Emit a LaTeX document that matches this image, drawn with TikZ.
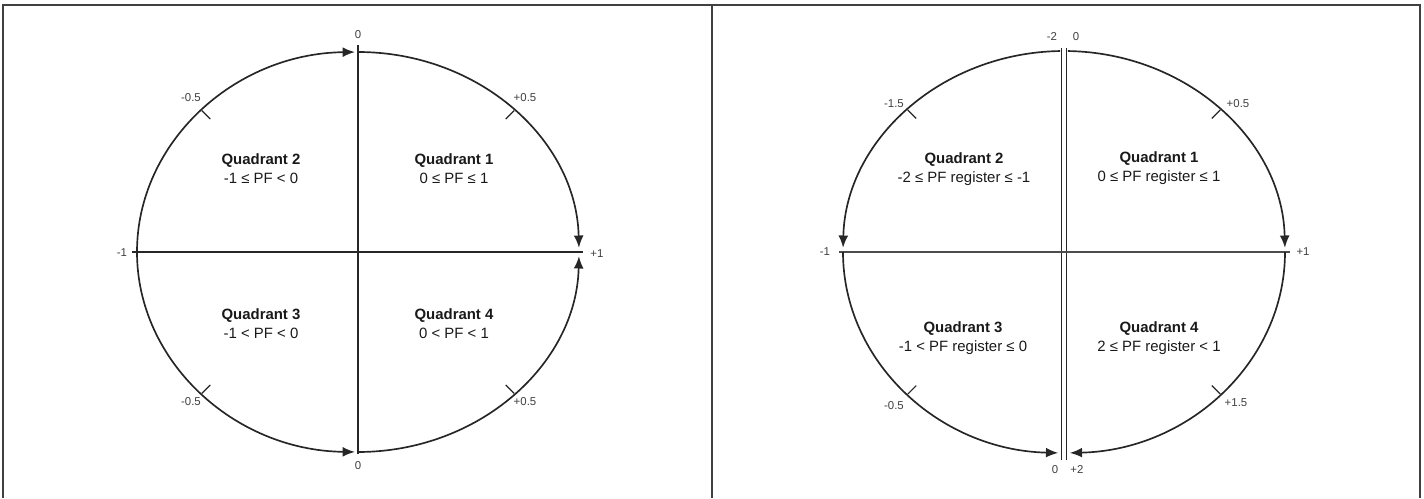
\documentclass[tikz,border=0pt]{standalone}
\usepackage{fontspec}
\setmainfont{Liberation Sans}
\usetikzlibrary{arrows.meta}

\begin{document}
\begin{tikzpicture}[x=0.02cm,y=0.02cm,line width=0.95pt,color=black!85,
  ring/.style={line width=0.95pt,-{Latex[length=7pt,width=5.6pt]}},
  tick/.style={line width=0.7pt},
  lbl/.style={font=\fontsize{6.5}{7.5}\selectfont,text=black!75,inner sep=0pt},
  quad/.style={align=center,font=\fontsize{8.5}{10.8}\selectfont,text=black!90,inner sep=0pt}]
\useasboundingbox (0,0) rectangle (1424,498);
% frame of the two panels
\draw[line width=1.1pt,black!75] (3,0) -- (3,493) -- (1420,493) -- (1420,0);
\draw[line width=1.1pt,black!75] (712,0) -- (712,493);

% ---- left panel: PF
\coordinate (cL) at (358,246);
\coordinate (topL) at (358,453);
\coordinate (botL) at (358,44);
\coordinate (westL) at (132,246);
\coordinate (eastL) at (583,246);
\draw (botL) -- (topL);
\draw[line width=1.1pt] (westL) -- (eastL);
% arcs round the circle
\draw[ring] (cL) ++(180:221 and 200) arc[start angle=180,end angle=90.8,x radius=221,y radius=200];
\draw[ring] (cL) ++(90:221 and 200) arc[start angle=90,end angle=1.2,x radius=221,y radius=200];
\draw[ring] (cL) ++(180:221 and 200) arc[start angle=180,end angle=269.2,x radius=221,y radius=200];
\draw[ring] (cL) ++(270:221 and 200) arc[start angle=270,end angle=358.8,x radius=221,y radius=200];
\foreach \a in {45,135,225,315}{
  \draw[tick] (cL) ++(\a:221 and 200) -- ++(\a+180:12);
}
% scale labels
\node[lbl] (l0t) at (358,463) {0};
\node[lbl] (l0b) at (358,32) {0};
\node[lbl] (lm1) at (122,245) {-1};
\node[lbl] (lp1) at (597,244) {+1};
\node[lbl] (lm5t) at (191,400) {-0.5};
\node[lbl] (lp5t) at (525,400) {+0.5};
\node[lbl] (lm5b) at (191,96) {-0.5};
\node[lbl] (lp5b) at (525,96) {+0.5};
% quadrants
\node[quad] (q2L) at (261,329.5) {\textbf{Quadrant 2}\\-1 ≤ PF < 0};
\node[quad] (q1L) at (454,329.5) {\textbf{Quadrant 1}\\0 ≤ PF ≤ 1};
\node[quad] (q3L) at (261,174) {\textbf{Quadrant 3}\\-1 < PF < 0};
\node[quad] (q4L) at (454,174) {\textbf{Quadrant 4}\\0 < PF < 1};

% ---- right panel: PF register
\coordinate (cR) at (1064,246);
\coordinate (topR) at (1064,450);
\coordinate (botR) at (1064,38);
\coordinate (westR) at (839,246);
\coordinate (eastR) at (1290,246);
\draw[double,double distance=2pt,line width=0.8pt] (botR) -- (topR);
\draw[line width=1.2pt,black!70] (westR) -- (eastR);
% arcs round the circle
\draw[ring] (cR) ++(89:221 and 201) arc[start angle=89,end angle=1.2,x radius=221,y radius=201];
\draw[ring] (cR) ++(91:221 and 201) arc[start angle=91,end angle=178.8,x radius=221,y radius=201];
\draw[ring] (cR) ++(180:221 and 201) arc[start angle=180,end angle=268.5,x radius=221,y radius=201];
\draw[ring] (cR) ++(0:221 and 201) arc[start angle=360,end angle=271.5,x radius=221,y radius=201];
\foreach \a in {45,135,225,315}{
  \draw[tick] (cR) ++(\a:221 and 201) -- ++(\a+180:12);
}
% scale labels
\node[lbl] (rm2) at (1052,461) {-2};
\node[lbl] (r0t) at (1076,461) {0};
\node[lbl] (r0b) at (1055,28) {0};
\node[lbl] (rp2) at (1077,28) {+2};
\node[lbl] (rm1) at (825,246) {-1};
\node[lbl] (rp1) at (1303,246) {+1};
\node[lbl] (rm15) at (894,394) {-1.5};
\node[lbl] (rp5) at (1238,394) {+0.5};
\node[lbl] (rm5) at (894,92) {-0.5};
\node[lbl] (rp15) at (1236,95) {+1.5};
% quadrants
\node[quad] (q2R) at (964,329) {\textbf{Quadrant 2}\\-2 ≤ PF register ≤ -1};
\node[quad] (q1R) at (1159,329.5) {\textbf{Quadrant 1}\\0 ≤ PF register ≤ 1};
\node[quad] (q3R) at (963,159.5) {\textbf{Quadrant 3}\\-1 < PF register ≤ 0};
\node[quad] (q4R) at (1159,160) {\textbf{Quadrant 4}\\2 ≤ PF register < 1};
\end{tikzpicture}
\end{document}
